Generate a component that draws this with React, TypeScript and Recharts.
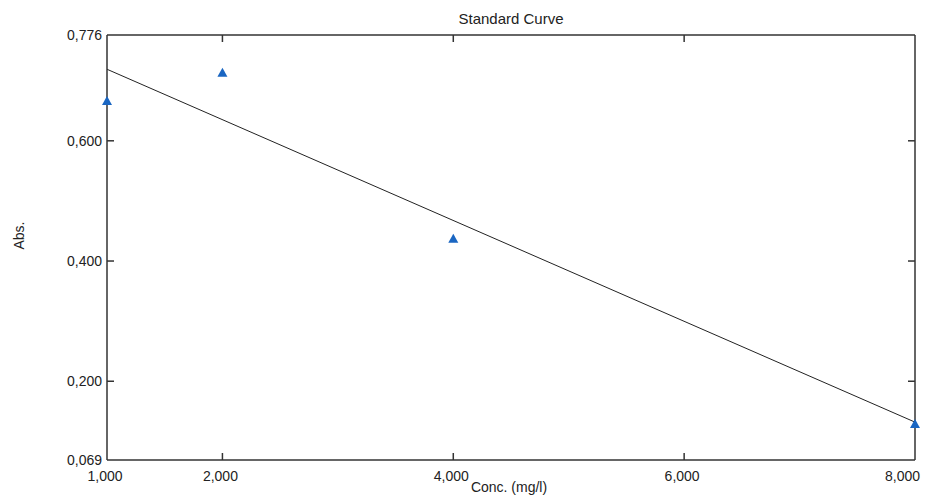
import {
  ComposedChart,
  Line,
  Scatter,
  XAxis,
  YAxis
} from "recharts";

const concentrations = [1, 2, 4, 8];
const absorbances = [0.666, 0.713, 0.437, 0.129];

const fitConc = [1, 8];
const fitAbs = [0.719, 0.132];

const xTicks = [1, 2, 4, 6, 8];
const yTicks = [0.069, 0.2, 0.4, 0.6, 0.776];
const innerXTicks = [2, 4, 6];
const innerYTicks = [0.2, 0.4, 0.6];

const points = concentrations.map((c, i) => ({ conc: c, abs: absorbances[i] }));
const fitLine = fitConc.map((c, i) => ({ conc: c, abs: fitAbs[i] }));

const fmt = (v: number) => v.toFixed(3).replace(".", ",");
const font = "'Liberation Sans', Arial, sans-serif";
const axisColor = "#333";
const textColor = "#222";

const Triangle = (props: any) => {
  const { cx, cy } = props;
  if (cx == null || cy == null) return null;
  return (
    <polygon
      points={`${cx},${cy - 5} ${cx + 5},${cy + 4} ${cx - 5},${cy + 4}`}
      fill="#1a66c2"
    />
  );
};

const Nothing = () => null;

// tick label outside, tick mark pointing into the plot
const BottomTick = (props: any) => {
  const { x, y, payload } = props;
  const axisY = y - 11;
  const first = payload.value === xTicks[0];
  const last = payload.value === xTicks[xTicks.length - 1];
  return (
    <g>
      {!first && !last && (
        <line x1={x} y1={axisY} x2={x} y2={axisY - 7} stroke={axisColor} strokeWidth={1.5} />
      )}
      <text
        x={last ? x + 5 : x - 2}
        y={y}
        dy="0.71em"
        textAnchor={last ? "end" : "middle"}
        fontSize={14}
        fill={textColor}
      >
        {fmt(payload.value)}
      </text>
    </g>
  );
};

const LeftTick = (props: any) => {
  const { x, y, payload } = props;
  const axisX = x + 5;
  const edge = payload.value === yTicks[0] || payload.value === yTicks[yTicks.length - 1];
  return (
    <g>
      {!edge && (
        <line x1={axisX} y1={y} x2={axisX + 7} y2={y} stroke={axisColor} strokeWidth={1.5} />
      )}
      <text x={x} y={y} dy="0.355em" textAnchor="end" fontSize={14} fill={textColor}>
        {fmt(payload.value)}
      </text>
    </g>
  );
};

export default function App() {
  return (
    <div style={{ position: "absolute", left: 0, top: 0, background: "#fff" }}>
      <ComposedChart
        width={932}
        height={502}
        margin={{ top: 35, right: 17, bottom: 12, left: 7 }}
        style={{ fontFamily: font }}
      >
        <XAxis
          xAxisId="bottom"
          dataKey="conc"
          type="number"
          domain={[1, 8]}
          ticks={xTicks}
          height={30}
          stroke={axisColor}
          strokeWidth={1.5}
          tickLine={false}
          tickSize={0}
          tickMargin={11}
          tick={<BottomTick />}
          label={{
            content: ({ viewBox }: any) => (
              <text
                x={viewBox.x + viewBox.width / 2 - 2}
                y={492}
                textAnchor="middle"
                fontSize={14}
                fill={textColor}
              >
                Conc. (mg/l)
              </text>
            )
          }}
        />
        <XAxis
          xAxisId="top"
          orientation="top"
          dataKey="conc"
          type="number"
          domain={[1, 8]}
          ticks={innerXTicks}
          tickFormatter={() => ""}
          height={1}
          mirror
          stroke={axisColor}
          strokeWidth={1.5}
          tickSize={7}
          label={{
            content: ({ viewBox }: any) => (
              <text
                x={viewBox.x + viewBox.width / 2}
                y={24}
                textAnchor="middle"
                fontSize={15}
                fill={textColor}
              >
                Standard Curve
              </text>
            )
          }}
        />
        <YAxis
          yAxisId="left"
          type="number"
          domain={[0.069, 0.776]}
          ticks={yTicks}
          width={100}
          stroke={axisColor}
          strokeWidth={1.5}
          tickLine={false}
          tickSize={0}
          tickMargin={5}
          tick={<LeftTick />}
          label={{
            content: ({ viewBox }: any) => {
              const x = viewBox.x + 17;
              const y = viewBox.y + viewBox.height / 2 - 12;
              return (
                <text
                  x={x}
                  y={y}
                  textAnchor="middle"
                  fontSize={14}
                  fill={textColor}
                  transform={`rotate(-90, ${x}, ${y})`}
                >
                  Abs.
                </text>
              );
            }
          }}
        />
        <YAxis
          yAxisId="right"
          orientation="right"
          type="number"
          domain={[0.069, 0.776]}
          ticks={innerYTicks}
          tickFormatter={() => ""}
          width={1}
          mirror
          stroke={axisColor}
          strokeWidth={1.5}
          tickSize={7}
        />
        <Line
          xAxisId="bottom"
          yAxisId="left"
          data={fitLine}
          dataKey="abs"
          stroke="#222"
          strokeWidth={1}
          dot={false}
          isAnimationActive={false}
        />
        <Scatter
          xAxisId="top"
          yAxisId="right"
          data={points}
          dataKey="abs"
          shape={<Nothing />}
          isAnimationActive={false}
        />
        <Scatter
          xAxisId="bottom"
          yAxisId="left"
          data={points}
          dataKey="abs"
          shape={<Triangle />}
          isAnimationActive={false}
        />
      </ComposedChart>
    </div>
  );
}
